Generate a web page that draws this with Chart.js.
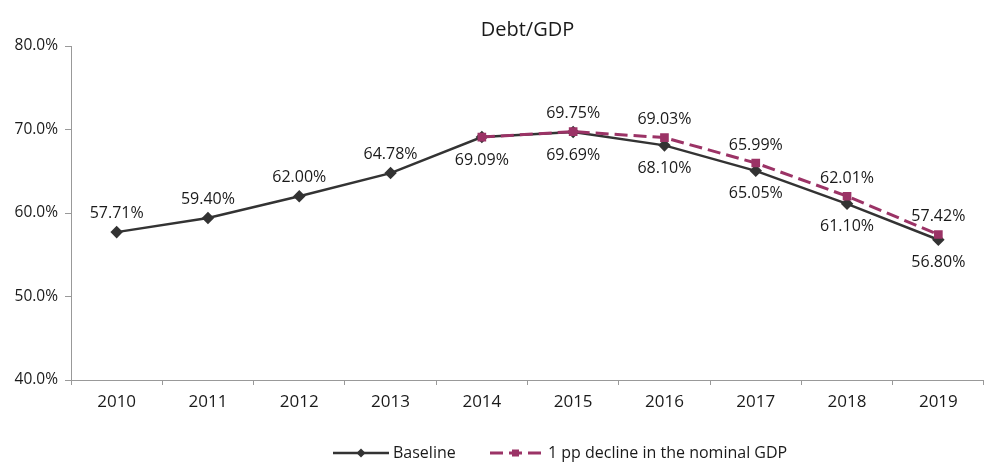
<!DOCTYPE html>
<html><head><meta charset="utf-8">
<script src="https://cdn.jsdelivr.net/npm/chart.js@4/dist/chart.umd.min.js"></script>
<style>html,body{margin:0;padding:0;background:#fff}#wrap{width:984px;height:464px}</style>
</head><body><div id="wrap"><canvas id="c" width="984" height="464"></canvas></div>
<script>
const years = ['2010','2011','2012','2013','2014','2015','2016','2017','2018','2019'];
const baseline = [57.71, 59.40, 62.00, 64.78, 69.09, 69.69, 68.10, 65.05, 61.10, 56.80];
const decline = [null, null, null, null, 69.09, 69.75, 69.03, 65.99, 62.01, 57.42];
const baselineLabelPos = ['above','above','above','above','below','below','below','below','below','below'];
const declineLabelShown = [false,false,false,false,false,true,true,true,true,true];
const seriesNames = ['Baseline','1 pp decline in the nominal GDP'];
const yTicks = [40, 50, 60, 70, 80];
const FONT = '"Open Sans", sans-serif';
const TXT = '#1a1a1a';
const C1 = '#333333', C2 = '#9b3366';

const labelPlugin = {
  id: 'labels',
  afterDatasetsDraw(chart) {
    const ctx = chart.ctx;
    ctx.save();
    ctx.font = '16px ' + FONT;
    ctx.fillStyle = TXT;
    ctx.textAlign = 'center';
    ctx.textBaseline = 'middle';
    const m0 = chart.getDatasetMeta(0);
    m0.data.forEach((p, i) => {
      const dy = baselineLabelPos[i] === 'above' ? -19 : 23;
      ctx.fillText(baseline[i].toFixed(2) + '%', p.x, p.y + dy);
    });
    const m1 = chart.getDatasetMeta(1);
    m1.data.forEach((p, i) => {
      if (!declineLabelShown[i]) return;
      ctx.fillText(decline[i].toFixed(2) + '%', p.x, p.y - 18);
    });
    // title
    ctx.font = '20px ' + FONT;
    const ca = chart.chartArea;
    ctx.fillText('Debt/GDP', (ca.left + ca.right) / 2, 30);
    // legend
    ctx.font = '16px ' + FONT;
    ctx.textAlign = 'left';
    const ly = 453;
    ctx.strokeStyle = C1; ctx.lineWidth = 2.5; ctx.setLineDash([]);
    ctx.beginPath(); ctx.moveTo(333, ly); ctx.lineTo(389, ly); ctx.stroke();
    ctx.fillStyle = C1;
    ctx.beginPath(); ctx.moveTo(361, ly - 4.5); ctx.lineTo(365.5, ly); ctx.lineTo(361, ly + 4.5); ctx.lineTo(356.5, ly); ctx.closePath(); ctx.fill();
    ctx.fillStyle = TXT;
    ctx.fillText(seriesNames[0], 393, ly);
    ctx.strokeStyle = C2; ctx.lineWidth = 3; ctx.setLineDash([13, 6]);
    ctx.beginPath(); ctx.moveTo(490, ly); ctx.lineTo(542, ly); ctx.stroke();
    ctx.setLineDash([]);
    ctx.fillStyle = C2; ctx.fillRect(512, ly - 3.5, 7, 7);
    ctx.fillStyle = TXT;
    ctx.fillText(seriesNames[1], 548, ly);
    ctx.restore();
  }
};

new Chart(document.getElementById('c'), {
  type: 'line',
  data: {
    labels: years,
    datasets: [
      { label: seriesNames[0], data: baseline, borderColor: C1, backgroundColor: C1, borderWidth: 2.5,
        pointStyle: 'rectRot', pointRadius: 4.5, pointHoverRadius: 4.5, tension: 0, order: 2 },
      { label: seriesNames[1], data: decline, borderColor: C2, backgroundColor: C2, borderWidth: 3,
        borderDash: [13, 6], pointStyle: 'rect', pointRadius: 4, pointHoverRadius: 4, tension: 0, order: 1 }
    ]
  },
  options: {
    responsive: false, animation: false, devicePixelRatio: 1,
    layout: { autoPadding: false, padding: { top: 46, right: 0, bottom: 0, left: 0 } },
    plugins: { legend: { display: false }, title: { display: false }, tooltip: { enabled: false } },
    scales: {
      x: {
        offset: true,
        grid: { offset: true, drawOnChartArea: false, drawTicks: true, tickLength: 5, color: '#999' },
        border: { color: '#999', width: 1 },
        ticks: { color: TXT, font: { family: FONT, size: 17 }, padding: 7, maxRotation: 0 },
        afterFit(s) { s.height = 84; }
      },
      y: {
        min: 40, max: 80,
        afterBuildTicks(s) { s.ticks = yTicks.map(v => ({ value: v })); },
        grid: { drawOnChartArea: false, drawTicks: true, tickLength: 6, color: '#999' },
        border: { color: '#999', width: 1 },
        ticks: { color: TXT, font: { family: FONT, size: 15.5 }, padding: 7, callback: v => v.toFixed(1) + '%' },
        afterFit(s) { s.width = 71; }
      }
    }
  },
  plugins: [labelPlugin]
});
</script>
</body></html>
